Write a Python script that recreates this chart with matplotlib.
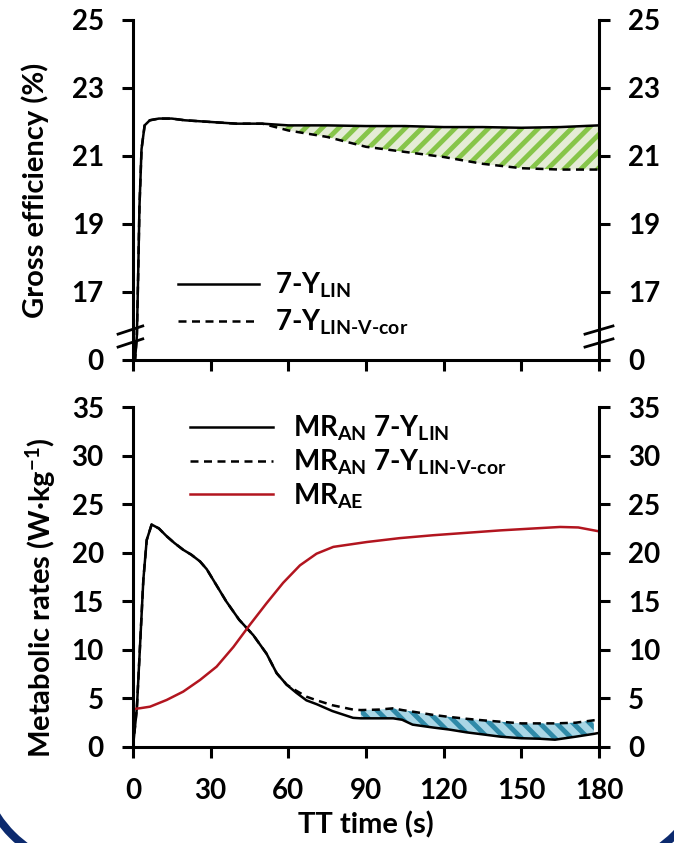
import numpy as np
import matplotlib.pyplot as plt
import matplotlib.patches as mpatches

# fonts (Calibri-like look)
plt.rcParams["font.family"] = ["Lato", "DejaVu Sans"]
plt.rcParams["font.weight"] = "bold"
plt.rcParams["axes.labelweight"] = "bold"
plt.rcParams["mathtext.fontset"] = "custom"
plt.rcParams["mathtext.rm"] = "Lato:bold"
plt.rcParams["mathtext.it"] = "Lato:bold"
plt.rcParams["mathtext.bf"] = "Lato:bold"
plt.rcParams["mathtext.default"] = "rm"
plt.rcParams["hatch.linewidth"] = 3.5

# --- gross efficiency (top panel) ---
t_ge = [0, 0.8, 1.5, 2.0, 2.5, 3.3, 4.5, 6.5, 10, 15, 20, 30, 40,
        50, 60, 75, 90, 105, 120, 135, 150, 165, 180]
ge_lin = [0, 0, 6, 17.5, 19.5, 21.2, 21.9, 22.05, 22.1, 22.1, 22.05, 22.0, 21.95,
          21.95, 21.9, 21.9, 21.88, 21.88, 21.85, 21.85, 21.83, 21.85, 21.9]
ge_cor = [0, 0, 6, 17.5, 19.5, 21.2, 21.9, 22.05, 22.1, 22.1, 22.05, 22.0, 21.95,
          21.95, 21.75, 21.56, 21.27, 21.12, 20.97, 20.77, 20.64, 20.6, 20.6]

# --- metabolic rates (bottom panel) ---
t_an = [0, 1.5, 2.7, 4, 5.3, 7.2, 10, 13, 16, 19.4, 22.5, 25.9, 28.5, 31, 36, 41,
        46.5, 51.6, 55.5, 59.4, 63, 67, 71, 77, 85, 88, 95, 100.5, 104, 108, 116,
        122, 129, 135, 142, 150, 157, 163, 171, 178, 180]
mr_an_lin = [0, 4, 10.3, 17.2, 21.3, 22.9, 22.5, 21.7, 21.0, 20.3, 19.8, 19.1, 18.3,
             17.2, 15.0, 13.1, 11.5, 9.6, 7.6, 6.4, 5.6, 4.8, 4.4, 3.7, 3.0, 2.95,
             2.95, 2.95, 2.8, 2.3, 2.0, 1.8, 1.5, 1.3, 1.06, 0.9, 0.85, 0.75, 1.06,
             1.35, 1.45]
mr_an_cor = [0, 4, 10.3, 17.2, 21.3, 22.9, 22.5, 21.7, 21.0, 20.3, 19.8, 19.1, 18.3,
             17.2, 15.0, 13.1, 11.5, 9.6, 7.6, 6.4, 5.8, 5.18, 4.8, 4.3, 3.85, 3.8,
             3.85, 3.98, 3.8, 3.64, 3.3, 3.1, 2.9, 2.75, 2.6, 2.43, 2.43, 2.43, 2.5,
             2.75, 2.8]

t_ae = [0, 3, 6.6, 13, 19.4, 25.9, 32.3, 38.8, 45.2, 51.6, 58, 64.5, 70.9, 77.4,
        90.3, 103, 116, 129, 142, 155, 165, 172, 180]
mr_ae = [3.9, 4.0, 4.15, 4.84, 5.7, 6.9, 8.27, 10.3, 12.6, 14.8, 16.9, 18.7, 19.9,
         20.6, 21.1, 21.5, 21.8, 22.05, 22.3, 22.5, 22.65, 22.6, 22.2]

x_ticks = [0, 30, 60, 90, 120, 150, 180]
ge_ticks = [0, 17, 19, 21, 23, 25]
mr_ticks = [0, 5, 10, 15, 20, 25, 30, 35]

t_ge = np.array(t_ge)
t_an = np.array(t_an)

FS = 20      # tick / legend text
FS_LAB = 21  # axis titles
NAVY = "#0c2a6e"


# broken y axis: 0..17 squeezed into one tick step
def brk_fwd(v):
    v = np.asarray(v, dtype=float)
    return np.where(v < 17, 15 + v * 2 / 17, v)


def brk_inv(d):
    d = np.asarray(d, dtype=float)
    return np.where(d < 17, (d - 15) * 17 / 2, d)


def style_axes(ax):
    ax.spines["top"].set_visible(False)
    for s in ["left", "right", "bottom"]:
        ax.spines[s].set_linewidth(2.2)
    ax.tick_params(axis="both", direction="out", length=8, width=2.2,
                   labelsize=FS, right=True, labelright=True)
    ax.tick_params(axis="y", which="major", pad=13)
    ax.tick_params(axis="x", which="major", pad=14)
    ax.set_xlim(0, 180)
    ax.set_xticks(x_ticks)


fig = plt.figure(figsize=(6.74, 8.43), dpi=100)
ax1 = fig.add_axes([0.1973, 0.573, 0.6914, 0.4033])
ax2 = fig.add_axes([0.1973, 0.1139, 0.6914, 0.4033])

# top panel
ax1.set_yscale("function", functions=(brk_fwd, brk_inv))
ax1.set_ylim(0, 25)
ax1.set_yticks(ge_ticks)
ax1.set_yticklabels([str(v) for v in ge_ticks])
style_axes(ax1)
ax1.tick_params(axis="x", labelbottom=False)

ax1.fill_between(t_ge, ge_cor, ge_lin, where=t_ge >= 50, facecolor="#e4ecd6",
                 edgecolor="#86c54a", hatch="//", linewidth=0)
ax1.plot(t_ge, ge_lin, color="black", lw=1.8, label="7-Y$_\\text{LIN}$")
ax1.plot(t_ge, ge_cor, color="black", lw=1.8, dashes=(3.2, 2.2),
         label="7-Y$_\\text{LIN-V-cor}$")
ax1.set_ylabel("Gross efficiency (%)", fontsize=FS_LAB)
ax1.yaxis.set_label_coords(-0.18, 0.5)
ax1.legend(loc="upper left", bbox_to_anchor=(0.0966, 0.262), frameon=False,
           fontsize=FS, handlelength=2.9, handletextpad=0.6, labelspacing=0.25,
           borderpad=0, borderaxespad=0)

# break marks on both spines
for xs in ([-0.032, 0.021], [0.97, 1.03]):
    for yc in (0.088, 0.05):
        ax1.plot(xs, [yc - 0.012, yc + 0.012], color="black", lw=2.0,
                 transform=ax1.transAxes, clip_on=False)

# bottom panel
ax2.set_ylim(0, 35)
ax2.set_yticks(mr_ticks)
style_axes(ax2)

mask = (t_an >= 88) & (t_an <= 178)
ax2.fill_between(t_an, mr_an_lin, mr_an_cor, where=mask, facecolor="#a9d6e5",
                 edgecolor="#2f8aa8", hatch="\\\\", linewidth=0)
ax2.plot(t_an, mr_an_lin, color="black", lw=1.8,
         label="MR$_\\text{AN}$ 7-Y$_\\text{LIN}$")
ax2.plot(t_an, mr_an_cor, color="black", lw=1.8, dashes=(3.2, 2.2),
         label="MR$_\\text{AN}$ 7-Y$_\\text{LIN-V-cor}$")
ax2.plot(t_ae, mr_ae, color="#b2151f", lw=1.8, label="MR$_\\text{AE}$")
ax2.set_ylabel("Metabolic rates (W·kg$^{-1}$)", fontsize=FS_LAB)
ax2.yaxis.set_label_coords(-0.16, 0.44)
ax2.set_xlabel("TT time (s)", fontsize=FS_LAB)
ax2.xaxis.set_label_coords(0.5, -0.19)
ax2.legend(loc="upper left", bbox_to_anchor=(0.122, 0.98), frameon=False,
           fontsize=FS, handlelength=3.0, handletextpad=0.7, labelspacing=0.15,
           borderpad=0, borderaxespad=0)

# slide frame corners (navy rounded border at the bottom)
for cx, th1, th2 in [(0.97, 180, 270), (5.9, 270, 360)]:
    arc = mpatches.Arc((cx, 0.93), 2.4, 2.4, theta1=th1, theta2=th2,
                       color=NAVY, lw=5.8, transform=fig.dpi_scale_trans)
    fig.add_artist(arc)

fig.savefig("out.png", dpi=100)
